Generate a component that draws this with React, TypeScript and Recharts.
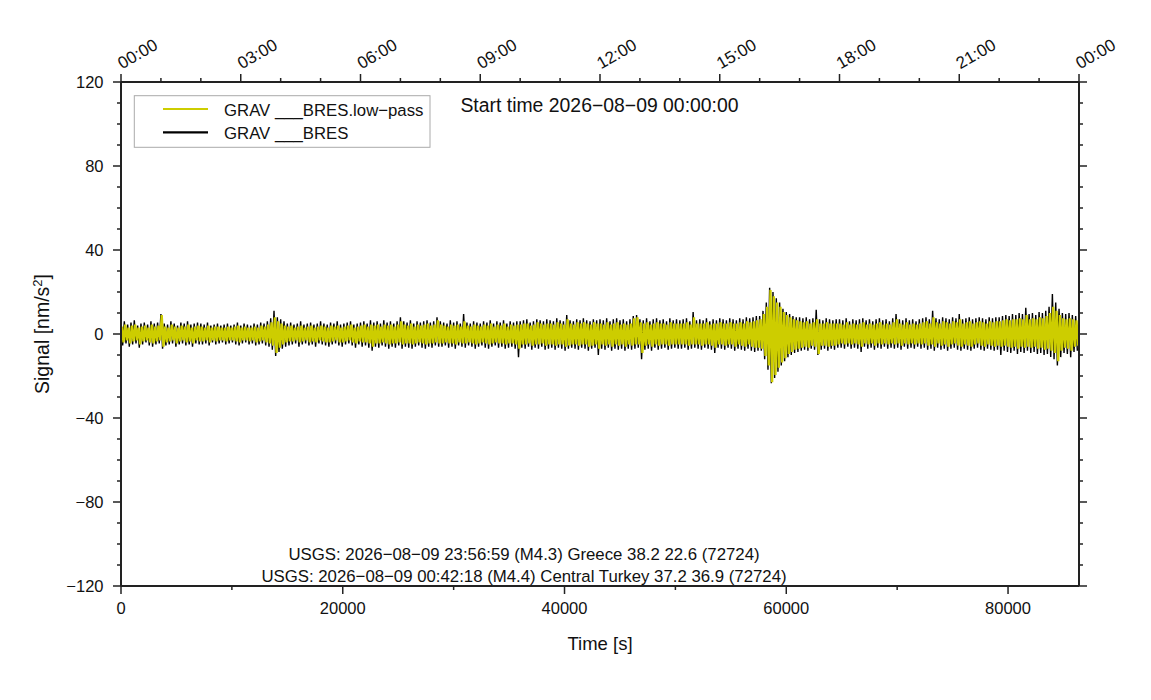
import React from 'react';
import { LineChart, Line, XAxis, YAxis } from 'recharts';

// Gravimeter record for one day, as a binned envelope (300 s per bin)
const BIN_SECONDS = 300;

// raw signal (black): upper / lower extreme per bin, nm/s^2
const rawHigh = [
  5, 6, 4.5, 5.5, 6.5, 4, 5, 5.5, 4.5, 6, 5, 5.5, 9.5, 5, 4.5, 6, 5, 4, 5.5, 5, 6, 4.5, 5, 5.5,
  5, 4.5, 5.5, 4, 4.5, 5, 4, 4.5, 5, 4, 4.5, 5.5, 4, 5, 4.5, 4, 5, 4.5, 5.5, 5, 6, 7.5, 11, 8,
  7, 6, 5, 5.5, 4.5, 5, 6, 4.5, 5, 5.5, 4.5, 5, 6, 5, 4.5, 5.5, 5, 6, 4.5, 5, 5.5, 6, 4.5, 5,
  5.5, 6, 5, 6.5, 5.5, 6, 5, 6.5, 5.5, 6, 5, 6, 8, 6, 5.5, 6.5, 5, 6, 5.5, 6, 6.5, 5.5, 6, 8,
  6, 5.5, 5, 6.5, 5.5, 6, 5, 9.5, 5.5, 5, 6, 5.5, 5, 6, 5.5, 6.5, 5, 6, 5.5, 6.5, 5, 6, 5.5, 6,
  6, 6.5, 7, 5.5, 6, 7, 6.5, 6, 7, 6.5, 6, 7.5, 6.5, 6, 9, 6.5, 6, 7, 6.5, 7.5, 6.5, 6, 7, 6.5,
  7, 6.5, 7.5, 6, 7, 7.5, 6.5, 7, 6, 7, 8.5, 9, 7, 6.5, 7.5, 6, 7, 7.5, 6.5, 7, 6, 7.5, 6.5, 7,
  6.5, 7, 7.5, 6, 10.5, 6.5, 7, 6.5, 7.5, 6, 7, 6.5, 7.5, 7, 6.5, 7.5, 7, 6.5, 7.5, 7, 8, 7.5, 8, 8.5,
  8.5, 11, 15, 22, 20, 17, 15, 12, 10.5, 9.5, 8.5, 8, 8, 7.5, 8, 7, 7.5, 11.5, 7, 6.5, 7.5, 7, 6.5, 7,
  7, 6.5, 7.5, 6, 7, 6.5, 7, 7.5, 6.5, 7, 6, 7, 7.5, 6.5, 7, 6, 7.5, 9.5, 7, 6.5, 7.5, 6.5, 7, 6,
  7, 7.5, 8, 7, 11, 7.5, 7, 8, 7.5, 7, 8, 7.5, 9.5, 7, 7.5, 8, 7, 7.5, 8, 7.5, 7, 8, 7.5, 8,
  8, 8.5, 9, 8.5, 9.5, 9, 10, 9.5, 12.5, 9.5, 10, 9, 10.5, 10, 11, 13, 19, 15, 12, 10, 9.5, 10, 9, 8.5,
];
const rawLow = [
  -5.5, -4.5, -6, -5, -4.5, -6.5, -5, -4, -5.5, -6, -5, -4.5, -7, -5.5, -5, -4.5, -6, -5, -4.5, -5.5, -5, -6, -4.5, -5,
  -5, -4.5, -5.5, -4, -5, -4.5, -4, -5, -4.5, -4, -5, -5.5, -4.5, -4, -5, -4.5, -5.5, -5, -4.5, -5.5, -6, -7.5, -10.5, -8.5,
  -7, -6, -5.5, -5, -4.5, -6, -5, -4.5, -5.5, -5, -6, -4.5, -5, -5.5, -6, -5, -4.5, -5.5, -6, -5, -4.5, -5.5, -6.5, -5,
  -6, -5.5, -6.5, -8, -6, -6.5, -5.5, -6, -7, -6, -6.5, -5.5, -7, -6, -6.5, -7, -6, -5.5, -6.5, -7, -6, -6.5, -5.5, -6,
  -6, -5.5, -6.5, -6, -7, -5.5, -6, -6.5, -5.5, -6, -7, -6, -5.5, -6.5, -7, -6, -5.5, -6.5, -6, -7, -6.5, -6, -7, -11,
  -6.5, -7, -6, -7.5, -6.5, -7, -6, -7.5, -7, -6.5, -7.5, -6.5, -7, -8, -7, -6.5, -7, -7.5, -6.5, -7, -8, -7, -6.5, -10,
  -7, -7.5, -6.5, -8, -7, -7.5, -7, -8, -7, -7.5, -7, -6.5, -12, -7.5, -7, -8, -6.5, -7.5, -7, -6.5, -7.5, -7, -6.5, -7,
  -7, -6.5, -7.5, -7, -6.5, -7, -7.5, -6.5, -7, -7.5, -9, -6.5, -7, -7.5, -6.5, -7, -8, -7, -7.5, -8, -7, -8, -8.5, -8,
  -8, -12, -17, -23.5, -21, -18, -15, -13, -11, -10, -9, -8.5, -8, -7.5, -8, -7, -7.5, -10, -7.5, -7, -8, -7, -7.5, -6.5,
  -6.5, -7, -6, -7, -6.5, -7, -8.5, -6, -7, -6.5, -7.5, -6.5, -7, -6, -7, -6.5, -7, -6.5, -7.5, -6, -7, -6.5, -7, -6,
  -7, -6.5, -7.5, -7, -8, -6.5, -7.5, -7, -8, -7, -6.5, -7.5, -8, -7, -7.5, -8, -7, -6.5, -7.5, -8, -7, -7.5, -8, -7.5,
  -10, -8, -8.5, -9, -8, -9.5, -8.5, -9, -8, -9, -8.5, -9.5, -9, -10, -9.5, -11, -12, -15, -11, -9, -9.5, -11, -8.5, -8,
];

// low-pass (yellow): upper / lower extreme per bin
const lowpassHigh = [
  3.5, 4.5, 3, 4, 4.5, 3, 3.5, 4, 3, 4.5, 3.5, 4, 9, 3.5, 3, 4.5, 3.5, 3, 4, 3.5, 4.5, 3, 3.5, 4,
  3.5, 3, 4, 3, 3.5, 3.5, 3, 3, 3.5, 3, 3.5, 4, 3, 3.5, 3, 3, 3.5, 3, 4, 3.5, 4.5, 5.5, 8, 6,
  5, 4, 3.5, 4, 3, 3.5, 4, 3, 3.5, 4, 3, 3.5, 4, 3.5, 3, 4, 3.5, 4, 3, 3.5, 4, 4.5, 3, 3.5,
  4, 4.5, 3.5, 4.5, 4, 4.5, 3.5, 4.5, 4, 4.5, 3.5, 4.5, 6, 4.5, 4, 5, 3.5, 4.5, 4, 4.5, 5, 4, 4.5, 6.5,
  4.5, 4, 3.5, 4.5, 4, 4.5, 3.5, 6, 4, 3.5, 4.5, 4, 3.5, 4.5, 4, 5, 3.5, 4.5, 4, 5, 3.5, 4.5, 4, 4.5,
  4.5, 5, 5, 4, 4.5, 5.5, 5, 4.5, 5, 5, 4.5, 5.5, 5, 4.5, 7, 5, 4.5, 5.5, 5, 5.5, 5, 4.5, 5.5, 5,
  5, 4.5, 5.5, 4.5, 5, 5.5, 4.5, 5, 4.5, 5, 7.5, 8, 5.5, 5, 5.5, 4.5, 5, 5.5, 5, 5, 4.5, 5.5, 5, 5,
  5, 5, 5.5, 4.5, 8, 5, 5, 5, 5.5, 4.5, 5, 5, 5.5, 5, 5, 5.5, 5, 5, 5.5, 5, 6, 5.5, 6, 6.5,
  7, 9.5, 13, 21, 18, 15, 13, 10.5, 9, 8, 7, 6.5, 6, 5.5, 6, 5, 5.5, 7, 5, 5, 5.5, 5, 5, 5,
  5, 4.5, 5.5, 4.5, 5, 4.5, 5, 5.5, 4.5, 5, 4.5, 5, 5.5, 4.5, 5, 4.5, 5.5, 7, 5, 4.5, 5.5, 4.5, 5, 4.5,
  5, 5.5, 6, 5, 8, 5.5, 5, 6, 5.5, 5, 6, 5.5, 7, 5, 5.5, 6, 5, 5.5, 6, 5.5, 5, 6, 5.5, 6,
  6, 6.5, 7, 6.5, 7, 7, 7.5, 7, 9, 7, 7.5, 7, 8, 7.5, 8.5, 10, 13, 11, 9, 7.5, 7, 7.5, 7, 6.5,
];
const lowpassLow = [
  -4, -3, -4.5, -3.5, -3, -5, -3.5, -3, -4, -4.5, -3.5, -3, -6, -4, -3.5, -3, -4.5, -3.5, -3, -4, -3.5, -4.5, -3, -3.5,
  -3.5, -3, -4, -3, -3.5, -3, -3, -3.5, -3, -3, -3.5, -4, -3, -3, -3.5, -3, -4, -3.5, -3, -4, -4.5, -5.5, -9, -6.5,
  -5, -4, -3.5, -3.5, -3, -4, -3.5, -3, -4, -3.5, -4, -3, -3.5, -4, -4, -3.5, -3, -4, -4, -3.5, -3, -4, -4.5, -3.5,
  -4, -4, -4.5, -6, -4.5, -4.5, -4, -4.5, -5, -4.5, -4.5, -4, -5, -4.5, -4.5, -5, -4.5, -4, -4.5, -5, -4.5, -4.5, -4, -4.5,
  -4.5, -4, -4.5, -4.5, -5, -4, -4.5, -4.5, -4, -4.5, -5, -4.5, -4, -4.5, -5, -4.5, -4, -4.5, -4.5, -5, -4.5, -4.5, -5, -7,
  -5, -5, -4.5, -5.5, -5, -5, -4.5, -5.5, -5, -5, -5.5, -5, -5, -6, -5.5, -5, -5, -5.5, -5, -5, -6, -5.5, -5, -7,
  -5, -5.5, -5, -6, -5, -5.5, -5, -6, -5, -5.5, -5, -5, -9, -5.5, -5, -6, -5, -5.5, -5, -5, -5.5, -5, -5, -5,
  -5, -5, -5.5, -5, -5, -5, -5.5, -5, -5, -5.5, -6.5, -5, -5, -5.5, -5, -5, -6, -5, -5.5, -6, -5, -6, -6.5, -6.5,
  -7, -10.5, -15, -23, -19.5, -16, -13.5, -11.5, -9.5, -8.5, -7.5, -7, -6.5, -6, -6.5, -5.5, -6, -9.5, -5.5, -5.5, -6, -5.5, -5.5, -5,
  -4.5, -5, -4.5, -5, -4.5, -5, -6, -4.5, -5, -4.5, -5.5, -4.5, -5, -4.5, -5, -4.5, -5, -4.5, -5.5, -4.5, -5, -4.5, -5, -4.5,
  -5, -4.5, -5.5, -5, -6, -4.5, -5.5, -5, -6, -5, -4.5, -5.5, -6, -5, -5.5, -6, -5, -4.5, -5.5, -6, -5, -5.5, -6, -5.5,
  -6, -5.5, -6, -6.5, -6, -7, -6, -6.5, -6, -6.5, -6, -7, -6.5, -7.5, -7, -8, -9, -13, -8, -6.5, -7, -8, -6, -5.5,
];

const xTicks = [0, 10000, 20000, 30000, 40000, 50000, 60000, 70000, 80000];
const timeTicks = [
  0, 3600, 7200, 10800, 14400, 18000, 21600, 25200, 28800, 32400, 36000, 39600, 43200,
  46800, 50400, 54000, 57600, 61200, 64800, 68400, 72000, 75600, 79200, 82800, 86400,
];
const yTicks = [
  -120, -110, -100, -90, -80, -70, -60, -50, -40, -30, -20, -10, 0,
  10, 20, 30, 40, 50, 60, 70, 80, 90, 100, 110, 120,
];

const startTime = 'Start time 2026\u221208\u221209 00:00:00';
const events = [
  'USGS: 2026\u221208\u221209 23:56:59 (M4.3) Greece 38.2 22.6 (72724)',
  'USGS: 2026\u221208\u221209 00:42:18 (M4.4) Central Turkey 37.2 36.9 (72724)',
];

const FONT = '"Liberation Sans", Arial, Helvetica, sans-serif';
const FRAME = '#222';
const YELLOW = '#cdcd00';

// interleave each bin's extremes so the trace sweeps the full band
const rawData = rawHigh.flatMap((hi, i) => [
  { t: i * BIN_SECONDS, v: hi },
  { t: i * BIN_SECONDS + BIN_SECONDS / 2, v: rawLow[i] },
]);
const lowpassData = lowpassHigh.flatMap((hi, i) => [
  { t: i * BIN_SECONDS + BIN_SECONDS / 4, v: hi },
  { t: i * BIN_SECONDS + (3 * BIN_SECONDS) / 4, v: lowpassLow[i] },
]);

const minus = (v: number) => (v < 0 ? `\u2212${Math.abs(v)}` : `${v}`);
const hhmm = (s: number) => `${String(Math.floor(s / 3600) % 24).padStart(2, '0')}:00`;

const BottomTick = ({ x, y, payload }: any) => {
  const major = payload.value % 20000 === 0;
  return (
    <g>
      <line x1={x} x2={x} y1={y} y2={y + (major ? 8 : 4)} stroke={FRAME} strokeWidth={1.5} />
      {major && (
        <text x={x} y={y + 28} textAnchor="middle" fontSize={16.5} fontFamily={FONT} fill="#111">
          {payload.value}
        </text>
      )}
    </g>
  );
};

const TopTick = ({ x, y, payload }: any) => {
  const major = payload.value % 10800 === 0;
  const tx = x + 1;
  const ty = y - 12.5;
  return (
    <g>
      <line x1={x} x2={x} y1={y} y2={y - (major ? 8 : 4)} stroke={FRAME} strokeWidth={1.5} />
      {major && (
        <text x={tx} y={ty} transform={`rotate(-30 ${tx} ${ty})`} fontSize={17} fontFamily={FONT} fill="#111">
          {hhmm(payload.value)}
        </text>
      )}
    </g>
  );
};

const LeftTick = ({ x, y, payload }: any) => {
  const major = payload.value % 40 === 0;
  return (
    <g>
      <line x1={x} x2={x - (major ? 8 : 4)} y1={y} y2={y} stroke={FRAME} strokeWidth={1.5} />
      {major && (
        <text x={x - 17.5} y={y + 6} textAnchor="end" fontSize={16.5} fontFamily={FONT} fill="#111">
          {minus(payload.value)}
        </text>
      )}
    </g>
  );
};

const RightTick = ({ x, y, payload }: any) => {
  const major = payload.value % 40 === 0;
  return <line x1={x} x2={x + (major ? 8 : 4)} y1={y} y2={y} stroke={FRAME} strokeWidth={1.5} />;
};

export default function App() {
  const width = 1135;
  const height = 684;
  const frameLine = { stroke: FRAME, strokeWidth: 2 };

  return (
    <div style={{ position: 'relative', width, height }}>
      <LineChart width={width} height={height} margin={{ top: 0, right: 0, bottom: 0, left: 0 }}>
        <XAxis
          xAxisId="bottom"
          type="number"
          dataKey="t"
          domain={[0, 86400]}
          allowDataOverflow
          ticks={xTicks}
          interval={0}
          height={106}
          tickSize={0}
          tickMargin={0}
          tickLine={false}
          axisLine={frameLine}
          tick={<BottomTick />}
        />
        <XAxis
          xAxisId="top"
          orientation="top"
          type="number"
          dataKey="t"
          domain={[0, 86400]}
          allowDataOverflow
          ticks={timeTicks}
          interval={0}
          height={74}
          tickSize={0}
          tickMargin={0}
          tickLine={false}
          axisLine={frameLine}
          tick={<TopTick />}
        />
        <YAxis
          yAxisId="left"
          type="number"
          domain={[-120, 120]}
          allowDataOverflow
          ticks={yTicks}
          interval={0}
          width={113}
          tickSize={0}
          tickMargin={0}
          tickLine={false}
          axisLine={frameLine}
          tick={<LeftTick />}
        />
        <YAxis
          yAxisId="right"
          orientation="right"
          type="number"
          domain={[-120, 120]}
          allowDataOverflow
          ticks={yTicks}
          interval={0}
          width={64}
          tickSize={0}
          tickMargin={0}
          tickLine={false}
          axisLine={frameLine}
          tick={<RightTick />}
        />
        <Line
          xAxisId="bottom"
          yAxisId="left"
          data={rawData}
          dataKey="v"
          stroke="#000"
          strokeWidth={1.4}
          dot={false}
          isAnimationActive={false}
        />
        <Line
          xAxisId="bottom"
          yAxisId="left"
          data={lowpassData}
          dataKey="v"
          stroke={YELLOW}
          strokeWidth={2.3}
          dot={false}
          isAnimationActive={false}
        />
      </LineChart>

      {/* annotations: legend, titles, axis labels */}
      <svg
        width={width}
        height={height}
        style={{ position: 'absolute', left: 0, top: 0, pointerEvents: 'none' }}
        fontFamily={FONT}
      >
        <rect x={126.3} y={87.7} width={295.7} height={51.6} fill="#fff" stroke="#aaa" strokeWidth={1} />
        <line x1={155} x2={200} y1={101} y2={101} stroke={YELLOW} strokeWidth={2.2} />
        <line x1={155} x2={200} y1={124.3} y2={124.3} stroke="#000" strokeWidth={2.2} />
        <text x={216} y={108} fontSize={16.75} fill="#111">GRAV ___BRES.low{'\u2212'}pass</text>
        <text x={216} y={131.3} fontSize={16.75} fill="#111">GRAV ___BRES</text>

        <text x={591.5} y={104} textAnchor="middle" fontSize={19.4} fill="#111">{startTime}</text>

        {events.map((e, i) => (
          <text key={i} x={516} y={552 + i * 22} textAnchor="middle" fontSize={16.8} fill="#111">
            {e}
          </text>
        ))}

        <text x={592} y={642} textAnchor="middle" fontSize={18.5} fill="#111">Time [s]</text>
        <text x={41} y={326} textAnchor="middle" fontSize={19.5} fill="#111" transform="rotate(-90 41 326)">
          Signal [nm/s<tspan dy={-7} fontSize={13}>2</tspan><tspan dy={7}>]</tspan>
        </text>
      </svg>
    </div>
  );
}
